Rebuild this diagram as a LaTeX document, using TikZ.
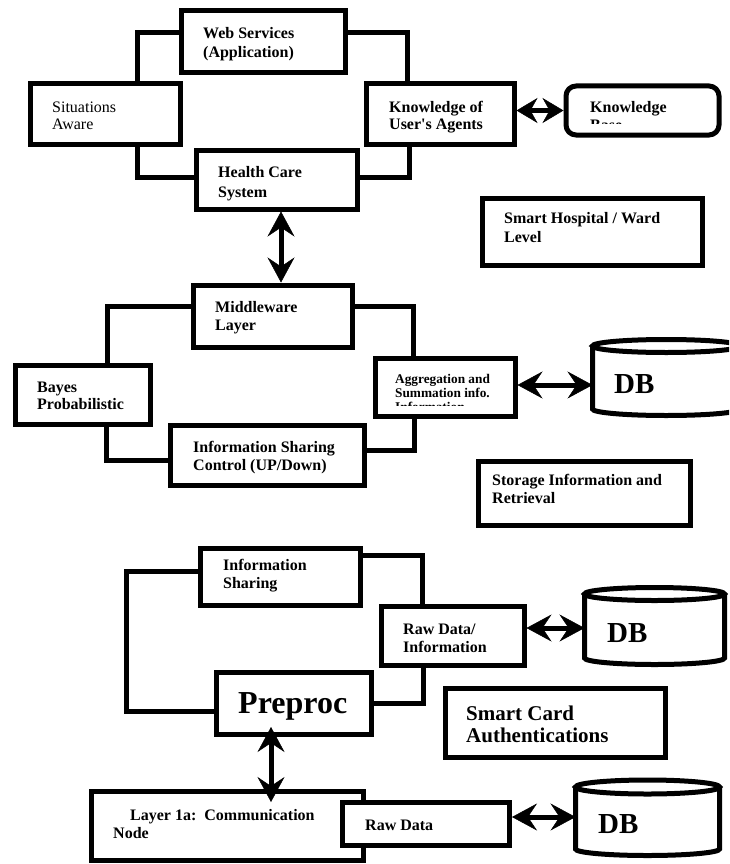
\documentclass[tikz,border=0pt]{standalone}
\usepackage{fontspec}
\setmainfont{Liberation Serif}
\usetikzlibrary{arrows.meta,calc}
\begin{document}
\begin{tikzpicture}[x=1pt,y=-1pt,
  box/.style={draw, line width=5pt, fill=white, rectangle, inner sep=0pt},
  conn/.style={line width=5pt, line join=miter},
  tipa/.tip={Stealth[length=25pt,width=27pt,inset=9pt,line width=0.5pt]},
  tipb/.tip={Stealth[length=21pt,width=25pt,inset=7pt,line width=0.5pt]},
  dbl/.style={line width=5pt, tipa-tipa},
  dblb/.style={line width=5pt, tipb-tipb},
  lbl/.style={anchor=base west, inner sep=0pt, font=\bfseries\fontsize{16}{17}\selectfont},
  lblr/.style={anchor=base west, inner sep=0pt, font=\fontsize{16}{17}\selectfont},
  lbls/.style={anchor=base west, inner sep=0pt, font=\bfseries\fontsize{13.3}{14}\selectfont},
  dbt/.style={anchor=base west, inner sep=0pt, font=\bfseries\fontsize{29}{29}\selectfont},
]
\useasboundingbox (0,0) rectangle (729,864);
\clip (0,0) rectangle (729,864);

% boxes
\node[box, minimum width=164pt, minimum height=62pt] (web) at (263,42) {};
\node[box, minimum width=150pt, minimum height=60pt] (sit) at (105,114) {};
\node[box, minimum width=148pt, minimum height=60pt] (know) at (440,114) {};
\node[box, rounded corners=10pt, minimum width=153pt, minimum height=49pt] (kb) at (642.5,110.5) {};
\node[box, minimum width=161pt, minimum height=59pt] (health) at (276.5,179.5) {};
\node[box, minimum width=220pt, minimum height=67pt] (smarth) at (592,231.5) {};
\node[box, minimum width=159pt, minimum height=62pt] (mid) at (272.5,316) {};
\node[box, minimum width=135pt, minimum height=59pt] (bayes) at (82.5,394.5) {};
\node[box, minimum width=140pt, minimum height=58pt] (agg) at (445,387) {};
\node[box, minimum width=194pt, minimum height=60pt] (isc) at (267,455) {};
\node[box, minimum width=212pt, minimum height=64pt] (storage) at (584,493) {};
\node[box, minimum width=160pt, minimum height=57pt] (infos) at (280.5,577) {};
\node[box, minimum width=143pt, minimum height=59pt] (rawinfo) at (452.5,635.5) {};
\node[box, minimum width=155pt, minimum height=62pt] (preproc) at (293.5,703) {};
\node[box, minimum width=220pt, minimum height=69pt] (smartcard) at (555,722.5) {};
\node[box, minimum width=272pt, minimum height=69pt] (layer) at (227.5,826) {};
\node[box, minimum width=167pt, minimum height=43pt] (rawdata) at (426,824) {};

% cylinders
\draw[conn, fill=white] (592.5,346) -- (592.5,409) arc[start angle=180,end angle=0,x radius=73.75,y radius=6.5] -- (740,346);
\draw[conn] (666.25,346) ellipse [x radius=73.75, y radius=6.5];
\coordinate (db1w) at (592.5,385);
\draw[conn, fill=white] (584.5,594) -- (584.5,658) arc[start angle=180,end angle=0,x radius=70,y radius=6.5] -- (724.5,594);
\draw[conn] (654.5,594) ellipse [x radius=70, y radius=6.5];
\coordinate (db2w) at (584.5,628);
\draw[conn, fill=white] (575.5,787) -- (575.5,849) arc[start angle=180,end angle=0,x radius=72,y radius=6.5] -- (719.5,787);
\draw[conn] (647.5,787) ellipse [x radius=72, y radius=7];
\coordinate (db3w) at (575.5,817);

% texts
\node[lbl] (t1) at (203,39) {Web Services};
\node[lbl] (t2) at (203,58) {(Application)};
\node[lblr] (t3) at (52,113) {Situations};
\node[lblr] (t4) at (52,130) {Aware};
\node[lbl] (t5) at (389,113) {Knowledge of};
\node[lbl] (t6) at (389,130) {User\textquotesingle s Agents};
\begin{scope}
\clip (566,86) rectangle (719,124);
\node[lbl] (t7) at (590,113) {Knowledge};
\node[lbl] (t8) at (590,131) {Base};
\end{scope}
\node[lbl] (t9) at (218,177) {Health Care};
\node[lbl] (t10) at (218,197) {System};
\node[lbl] (t11) at (504,223) {Smart Hospital / Ward};
\node[lbl] (t12) at (504,242) {Level};
\node[lbl] (t13) at (215,312) {Middleware};
\node[lbl] (t14) at (215,330) {Layer};
\node[lbl] (t15) at (37,392) {Bayes};
\node[lbl] (t16) at (37,409) {Probabilistic};
\begin{scope}
\clip (375,358) rectangle (515,405.5);
\node[lbls] (t17) at (395,383) {Aggregation and};
\node[lbls] (t18) at (395,397) {Summation info.};
\node[lbls] (t19) at (395,411) {Information};
\end{scope}
\node[lbl] (t20) at (193,452) {Information Sharing};
\node[lbl] (t21) at (193,470) {Control (UP/Down)};
\node[lbl] (t22) at (492,485) {Storage Information and};
\node[lbl] (t23) at (492,503) {Retrieval};
\node[lbl] (t24) at (223,570) {Information};
\node[lbl] (t25) at (223,588) {Sharing};
\node[lbl] (t26) at (403,634) {Raw Data/};
\node[lbl] (t27) at (403,652) {Information};
\node[anchor=base west, inner sep=0pt, font=\bfseries\fontsize{32}{32}\selectfont] (t28) at (238,713) {Preproc};
\node[anchor=base west, inner sep=0pt, font=\bfseries\fontsize{21}{22}\selectfont] (t29) at (466,720) {Smart Card};
\node[anchor=base west, inner sep=0pt, font=\bfseries\fontsize{21}{22}\selectfont] (t30) at (466,742) {Authentications};
\node[lbl] (t31) at (130,820) {Layer 1a:\ \ Communication};
\node[lbl] (t32) at (113,838) {Node};
\node[lbl] (t33) at (365,830) {Raw Data};
\node[dbt] (db1) at (614,393) {DB};
\node[dbt] (db2) at (607,642) {DB};
\node[dbt] (db3) at (598,833) {DB};

% connectors
\draw[conn] ([yshift=9pt]web.west) -| (sit.north -| 137,0);
\draw[conn] ([yshift=9pt]web.east) -| (know.north -| 407,0);
\draw[conn] (sit.south -| 137,0) |- ([yshift=2.5pt]health.west);
\draw[conn] (know.south -| 409,0) |- ([yshift=2.5pt]health.east);
\draw[conn] ([yshift=10pt]mid.west) -| (bayes.north -| 107,0);
\draw[conn] ([yshift=10pt]mid.east) -| (agg.north -| 413,0);
\draw[conn] (bayes.south -| 106,0) |- ([yshift=-5.5pt]isc.west);
\draw[conn] (agg.south -| 414,0) |- ([yshift=5pt]isc.east);
\coordinate (pw) at ([yshift=-8pt]preproc.west);
\draw[conn] ([yshift=6pt]infos.west) -| (pw -| 126,0) -- (pw);
\draw[conn] ([yshift=22pt]infos.east) -| (rawinfo.north -| 422,0);
\draw[conn] (rawinfo.south -| 423,0) |- (preproc.east);

% double arrows
\draw[dblb] (know.east |- kb.west) -- (kb.west);
\draw[dbl] (281,0 |- health.south) -- (281,0 |- mid.north);
\draw[dbl] (agg.east |- db1w) -- (db1w);
\draw[dbl] (rawinfo.east |- db2w) -- (db2w);
\draw[dbl] ($(271,0 |- preproc.south)+(0,-9.5)$) -- ($(271,0 |- layer.north)+(0,13)$);
\draw[dbl] (rawdata.east |- db3w) -- (db3w);
\end{tikzpicture}
\end{document}
